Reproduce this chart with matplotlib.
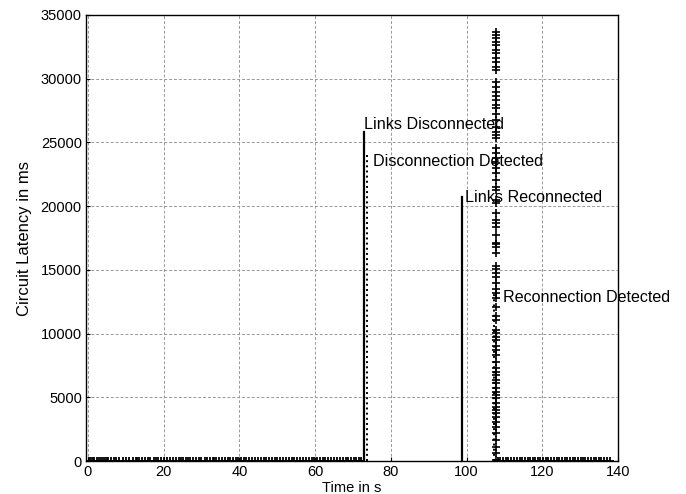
import matplotlib
matplotlib.use("Agg")
import matplotlib.pyplot as plt

plt.rcParams['font.family'] = ['Liberation Sans', 'DejaVu Sans']

# Latency samples (time in s, latency in ms)
t_before = [0.2, 0.8, 1.3, 1.7, 2.4, 3.0, 3.5, 4.1, 4.6, 5.0, 5.4, 6.1, 6.9, 7.5, 8.3,
            9.2, 10.1, 10.9, 11.8, 12.6, 13.1, 13.5, 14.2, 15.0, 15.8, 16.5, 17.4, 18.0,
            18.6, 19.3, 20.1, 21.0, 21.7, 22.5, 23.2, 24.0, 24.5, 25.1, 25.8, 26.4, 27.0,
            27.7, 28.5, 29.3, 30.0, 30.8, 31.5, 32.3, 33.0, 33.4, 33.8, 34.6, 35.5, 36.3,
            37.0, 37.6, 38.3, 39.0, 39.7, 40.5, 41.1, 41.8, 42.6, 43.3, 44.1, 44.9, 45.6,
            46.4, 47.0, 47.7, 48.5, 49.3, 50.0, 50.8, 51.5, 52.3, 53.1, 53.8, 54.5, 55.3,
            56.0, 56.8, 57.6, 58.4, 59.1, 59.8, 60.6, 61.4, 62.1, 62.7, 63.5, 64.3, 65.0,
            65.8, 66.6, 67.3, 68.1, 68.8, 69.5, 70.2, 70.9, 71.5, 72.1]
t_after = [108.3, 108.9, 109.6, 110.4, 111.0, 111.8, 112.5, 113.3, 114.0, 114.6, 115.4,
           116.1, 116.7, 117.5, 118.2, 118.8, 119.5, 120.3, 121.0, 121.6, 122.4, 123.1,
           123.8, 124.5, 125.2, 125.9, 126.6, 127.3, 128.0, 128.7, 129.4, 130.1, 130.8,
           131.4, 132.2, 132.9, 133.6, 134.3, 135.0, 135.6, 136.3, 137.0, 137.9]
base_latency = 0

burst_time = 107.9
burst_latency = [33695, 33433, 33172, 32910, 32648, 32255, 31994, 31601, 31340, 30947,
                 30685, 29770, 29378, 28985, 28645, 28331, 27939, 27677, 27232, 26761,
                 26238, 25846, 25584, 25322, 24538, 24145, 23753, 23361, 22968, 22576,
                 22053, 21529, 21268, 20483, 20274, 19437, 18914, 18652, 18391, 17737,
                 17083, 17030, 16768, 16350, 15303, 15042, 14726, 14413, 13995, 13472,
                 13158, 12765, 12111, 11379, 11065, 10280, 10071, 9757, 9495, 9024, 8710,
                 8318, 7795, 7272, 7010, 6748, 6356, 6094, 5702, 5440, 5178, 4917, 4524,
                 4262, 4001, 3739, 3477, 3085, 2692, 2169, 1646, 1123, 600, 77]

# Event markers
event_times = [73.0, 73.8, 98.8, 107.2]
event_heights = [25800, 24100, 20700, 13200]
event_styles = ['-', ':', '-', ':']
event_labels = ['Links Disconnected', 'Disconnection Detected',
                'Links Reconnected', 'Reconnection Detected']
label_x = [73.0, 75.2, 99.7, 109.7]
label_y = [26400, 23500, 20700, 12800]

x_ticks = [0, 20, 40, 60, 80, 100, 120, 140]
y_ticks = [0, 5000, 10000, 15000, 20000, 25000, 30000, 35000]

fig = plt.figure(figsize=(6.86, 4.94), dpi=100)
ax = fig.add_axes([86/686, 33/494, 532/686, 446/494])

ax.grid(True, color='#999999', linestyle=(0, (3, 2)), linewidth=0.7)
ax.set_axisbelow(True)

for t, h, s in zip(event_times, event_heights, event_styles):
    ax.plot([t, t], [0, h], color='black', linestyle=s,
            linewidth=1.6 if s == '-' else 1.4)

ax.plot(t_before, [base_latency] * len(t_before), linestyle='none', marker='+',
        color='black', markersize=6, markeredgewidth=1.3)
ax.plot(t_after, [base_latency] * len(t_after), linestyle='none', marker='+',
        color='black', markersize=6, markeredgewidth=1.3)
ax.plot([burst_time] * len(burst_latency), burst_latency, linestyle='none', marker='+',
        color='black', markersize=6, markeredgewidth=1.2)

for lab, lx, ly in zip(event_labels, label_x, label_y):
    ax.text(lx, ly, lab, fontsize=11.6, ha='left', va='center', color='black')

ax.set_xlim(-0.5, 140)
ax.set_ylim(0, 35000)
ax.set_xticks(x_ticks)
ax.set_yticks(y_ticks)
ax.tick_params(direction='in', labelsize=10.5, length=3, pad=3)
for sp in ax.spines.values():
    sp.set_linewidth(1.0)
    sp.set_color('black')

ax.set_xlabel('Time in s', fontsize=10.5, labelpad=1)
ax.set_ylabel('Circuit Latency in ms', fontsize=12, labelpad=6)

fig.savefig('out.png', dpi=100)
